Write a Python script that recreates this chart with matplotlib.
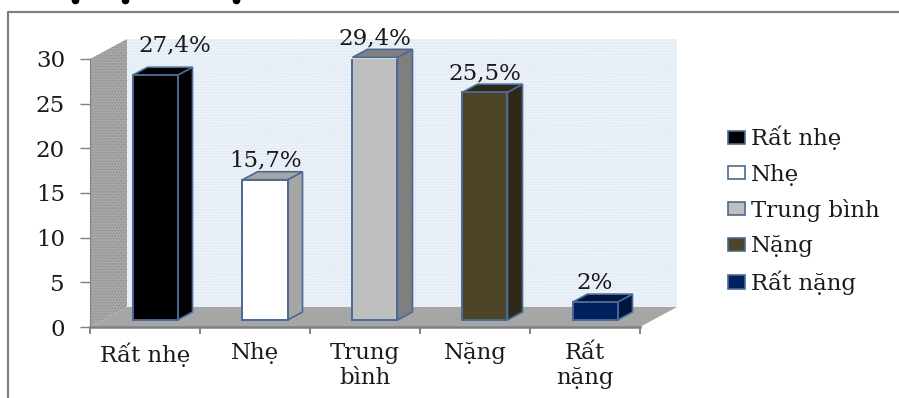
import matplotlib
matplotlib.use("Agg")
import matplotlib.pyplot as plt
from matplotlib.patches import Rectangle

plt.rcParams['font.family'] = ['DejaVu Serif']
plt.rcParams['hatch.linewidth'] = 0.6

categories = ["Rất nhẹ", "Nhẹ", "Trung\nbình", "Nặng", "Rất\nnặng"]
legend_names = ["Rất nhẹ", "Nhẹ", "Trung bình", "Nặng", "Rất nặng"]
values = [27.4, 15.7, 29.4, 25.5, 2]
value_labels = ["27,4%", "15,7%", "29,4%", "25,5%", "2%"]
y_ticks = [0, 5, 10, 15, 20, 25, 30]

front_colors = ["#000000", "#ffffff", "#bfbfbf", "#4d4528", "#002060"]
side_colors = ["#000000", "#a6a6a6", "#7f7f7f", "#2f2a17", "#001440"]
top_colors = ["#000000", "#a6a6a6", "#808080", "#2f2a17", "#001440"]
edge = "#4a6a94"
text_color = "#1a1a1a"
font_size = 16.5

W, H = 899, 398
fig = plt.figure(figsize=(W / 100, H / 100), dpi=100, facecolor="white")

# outer chart frame
bg = fig.add_axes([0, 0, 1, 1], zorder=0)
bg.set_xlim(0, W)
bg.set_ylim(H, 0)
bg.axis("off")
bg.plot([8, 8, 899], [398, 12, 12], color="#808080", lw=1.6)
# bottom of the cut off heading
bg.plot([75, 125, 236], [0, 0, 0], "o", color="black", ms=4.5)

ax = fig.add_axes([90 / W, 1 - 327 / H, 550 / W, 268 / H], zorder=1)
ax.set_xlim(0, 5)
ax.set_ylim(0, 30)
ax.patch.set_alpha(0)

# 3d offsets in data units
px_x = 5 / 550
px_y = 30 / 268
wall_dx, wall_dy = 37 * px_x, 20 * px_y
bar_dx, bar_dy = 15 * px_x, 8 * px_y
base_x, base_y = 10 * px_x, 7 * px_y

# back wall, side wall, floor
ax.add_patch(Rectangle((wall_dx, wall_dy), 5, 30, fc="#e3ebf5", ec="#fbfcfe",
                       hatch="......", lw=0, clip_on=False, zorder=1))
ax.fill([0, wall_dx, wall_dx, 0], [0, wall_dy, 30 + wall_dy, 30], fc="#a8a8a8",
        ec="#8c8c8c", hatch="......", lw=0, clip_on=False, zorder=1)
ax.fill([0, 5, 5 + wall_dx, wall_dx], [0, 0, wall_dy, wall_dy], fc="#a6a6a6",
        ec="none", clip_on=False, zorder=1)

for i, v in enumerate(values):
    left = i + 0.5 - 22.5 * px_x + base_x
    right = left + 45 * px_x
    ax.bar(left, v, width=45 * px_x, bottom=base_y, align="edge", color=front_colors[i],
           edgecolor=edge, lw=1.4, zorder=3)
    top = v + base_y
    ax.fill([right, right + bar_dx, right + bar_dx, right],
            [base_y, base_y + bar_dy, top + bar_dy, top],
            fc=side_colors[i], ec=edge, lw=1.2, clip_on=False, zorder=2)
    ax.fill([left, right, right + bar_dx, left + bar_dx],
            [top, top, top + bar_dy, top + bar_dy],
            fc=top_colors[i], ec=edge, lw=1.2, clip_on=False, zorder=2)
    # the first label sits further off its bar
    nudge_x, nudge_y = (20, 10) if i == 0 else (0, -1)
    ax.text((left + right) / 2 + nudge_x * px_x, top + bar_dy + (1 + nudge_y) * px_y,
            value_labels[i], ha="center", va="bottom", fontsize=font_size,
            color=text_color, zorder=4)

ax.set_yticks(y_ticks)
ax.set_xticks(range(6))
ax.set_xticklabels([])
for i, c in enumerate(categories):
    ax.text(i + 0.5, -1.7, c, ha="center", va="top", fontsize=font_size, color=text_color,
            linespacing=1.15)
ax.tick_params(axis="y", labelsize=font_size, length=7, width=1, color="#808080",
               labelcolor=text_color, pad=11)
ax.tick_params(axis="x", length=5, width=1.2, color="#707070")
for name in ["top", "right"]:
    ax.spines[name].set_visible(False)
ax.spines["left"].set_color("#808080")
ax.spines["bottom"].set_color("#808080")
ax.spines["bottom"].set_linewidth(1.8)

# legend
handles = [Rectangle((0, 0), 1, 1, fc=c, ec=edge, lw=1.2) for c in front_colors]
fig.legend(handles, legend_names, loc="upper left", bbox_to_anchor=(728 / W, 1 - 126 / H),
           frameon=False, fontsize=font_size, handlelength=0.72, handleheight=0.5,
           handletextpad=0.28, labelspacing=0.58, borderpad=0, borderaxespad=0,
           labelcolor=text_color)

plt.savefig("out.png", dpi=100)
